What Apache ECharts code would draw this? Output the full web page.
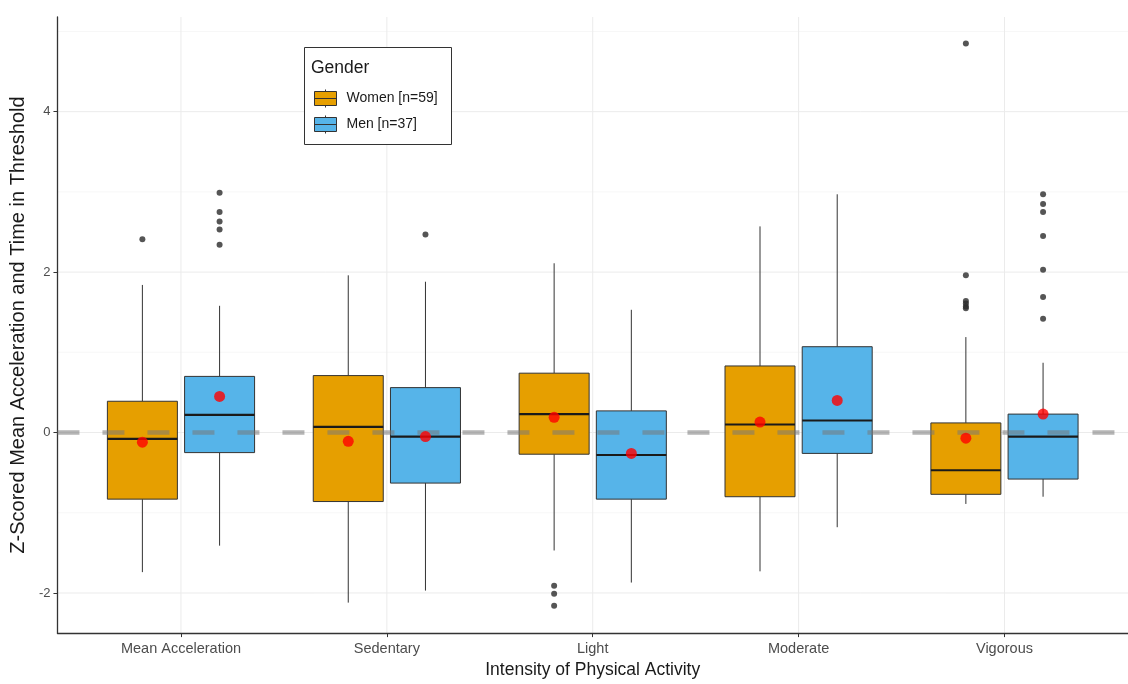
<!DOCTYPE html>
<html>
<head>
<meta charset="utf-8">
<script src="https://cdn.jsdelivr.net/npm/echarts@6/dist/echarts.min.js"></script>
<style>
html,body{margin:0;padding:0;background:#fff;}
#chart{width:1128px;height:684px;}
</style>
</head>
<body>
<div id="chart"></div>
<script>
// ---- data ----
const categories = ['Mean Acceleration', 'Sedentary', 'Light', 'Moderate', 'Vigorous'];
const seriesNames = ['Women [n=59]', 'Men [n=37]'];
// [lower whisker, Q1, median, Q3, upper whisker]
const womenBox = [
  [-1.74, -0.83, -0.08, 0.39, 1.84],
  [-2.12, -0.86, 0.07, 0.71, 1.96],
  [-1.47, -0.27, 0.23, 0.74, 2.11],
  [-1.73, -0.80, 0.10, 0.83, 2.57],
  [-0.89, -0.77, -0.47, 0.12, 1.19]
];
const menBox = [
  [-1.41, -0.25, 0.22, 0.70, 1.58],
  [-1.97, -0.63, -0.05, 0.56, 1.88],
  [-1.87, -0.83, -0.28, 0.27, 1.53],
  [-1.18, -0.26, 0.15, 1.07, 2.97],
  [-0.80, -0.58, -0.05, 0.23, 0.87]
];
const womenMean = [-0.12, -0.11, 0.19, 0.13, -0.07];
const menMean = [0.45, -0.05, -0.26, 0.40, 0.23];
const womenOutliers = [
  [2.41],
  [],
  [-1.91, -2.01, -2.16],
  [],
  [4.85, 1.96, 1.64, 1.61, 1.57, 1.55]
];
const menOutliers = [
  [2.99, 2.75, 2.63, 2.53, 2.34],
  [2.47],
  [],
  [],
  [2.97, 2.85, 2.75, 2.45, 2.03, 1.69, 1.42]
];
const yTicks = [-2, 0, 2, 4];
const yMinorTicks = [-1, 1, 3, 5];
const refLine = 0;

// ---- layout constants ----
const DODGE = 0.1875;
const BOX_W = 0.34;
const colors = ['#E69F00', '#56B4E9'];
const xPos = categories.map((c, i) => i + 1);

function boxData(arr) {
  return arr.map((b, i) => [xPos[i]].concat(b));
}
function pointData(arr, off) {
  return arr.map((v, i) => [xPos[i] + off, v]);
}
function outlierData(arr, off) {
  const out = [];
  arr.forEach((list, i) => list.forEach(v => out.push([xPos[i] + off, v])));
  return out;
}

function makeBoxRender(off, color) {
  return function (params, api) {
    const x = api.value(0) + off;
    const low = api.coord([x, api.value(1)]);
    const q1 = api.coord([x, api.value(2)]);
    const med = api.coord([x, api.value(3)]);
    const q3 = api.coord([x, api.value(4)]);
    const high = api.coord([x, api.value(5)]);
    const hw = api.size([BOX_W, 0])[0] / 2;
    const cx = q1[0];
    const wStyle = { stroke: '#333333', lineWidth: 1 };
    return {
      type: 'group',
      children: [
        { type: 'line', shape: { x1: cx, y1: high[1], x2: cx, y2: q3[1] }, style: wStyle },
        { type: 'line', shape: { x1: cx, y1: q1[1], x2: cx, y2: low[1] }, style: wStyle },
        { type: 'rect', shape: { x: cx - hw, y: q3[1], width: 2 * hw, height: q1[1] - q3[1] },
          style: { fill: color, stroke: '#333333', lineWidth: 1 } },
        { type: 'line', shape: { x1: cx - hw, y1: med[1], x2: cx + hw, y2: med[1] },
          style: { stroke: '#1a1a1a', lineWidth: 2.2 } }
      ]
    };
  };
}

// grid lines drawn through the axes' scales
const gridItems = [];
yTicks.forEach(v => gridItems.push(['h', v, 1]));
yMinorTicks.forEach(v => gridItems.push(['h', v, 0]));
xPos.forEach(v => gridItems.push(['v', v, 1]));

function gridRender(params, api) {
  const item = gridItems[params.dataIndex];
  const cs = params.coordSys;
  let shape;
  if (item[0] === 'h') {
    const p = api.coord([1, item[1]]);
    shape = { x1: cs.x, y1: p[1], x2: cs.x + cs.width, y2: p[1] };
  } else {
    const p = api.coord([item[1], 0]);
    shape = { x1: p[0], y1: cs.y, x2: p[0], y2: cs.y + cs.height };
  }
  return {
    type: 'line', shape: shape,
    style: { stroke: item[2] ? '#EBEBEB' : '#F5F5F5', lineWidth: item[2] ? 1 : 0.8 }
  };
}

const chart = echarts.init(document.getElementById('chart'), null, { renderer: 'canvas' });
const FONT = 'Liberation Sans, Arial, sans-serif';

const option = {
  animation: false,
  backgroundColor: '#ffffff',
  textStyle: { fontFamily: FONT },
  grid: { left: 55, right: 0, top: 17, bottom: 50, containLabel: false },
  xAxis: {
    type: 'value',
    min: 0.4,
    max: 5.6,
    name: 'Intensity of Physical Activity',
    nameLocation: 'middle',
    nameGap: 26,
    nameTextStyle: { fontSize: 17.5, color: '#1a1a1a', fontFamily: FONT, verticalAlign: 'top' },
    axisLine: { show: true, onZero: false, lineStyle: { color: '#333333', width: 1.3 } },
    axisTick: { show: true, customValues: xPos, length: 4, lineStyle: { color: '#333333' } },
    axisLabel: {
      customValues: xPos,
      formatter: v => categories[Math.round(v) - 1],
      fontSize: 14.5, color: '#4D4D4D', margin: 8, fontFamily: FONT
    },
    splitLine: { show: false }
  },
  yAxis: {
    type: 'value',
    min: -2.5,
    max: 5.18,
    name: 'Z-Scored Mean Acceleration and Time in Threshold',
    nameLocation: 'middle',
    nameGap: 22,
    nameTextStyle: { fontSize: 20, color: '#1a1a1a', fontFamily: FONT },
    axisLine: { show: true, onZero: false, lineStyle: { color: '#333333', width: 1.3 } },
    axisTick: { show: true, customValues: yTicks, length: 4, lineStyle: { color: '#333333' } },
    axisLabel: { customValues: yTicks, fontSize: 13, color: '#4D4D4D', margin: 7, fontFamily: FONT },
    splitLine: { show: false }
  },
  legend: {
    z: 300,
    zlevel: 1,
    left: 314,
    top: 89,
    padding: 0,
    orient: 'vertical',
    itemWidth: 22,
    itemHeight: 18,
    itemGap: 7,
    selectedMode: false,
    textStyle: { fontSize: 14, color: '#1a1a1a', fontFamily: FONT, padding: [0, 0, 0, 5] },
    itemStyle: { borderColor: '#333333', borderWidth: 1 },
    data: seriesNames.map(n => ({
      name: n,
      icon: 'path://M0,2H22V16H0Z M0,9H22 M11,0V2 M11,16V18'
    }))
  },
  graphic: [
    { type: 'rect', left: 304, top: 47, z: 100,
      shape: { width: 147, height: 97 },
      style: { fill: '#ffffff', stroke: '#333333', lineWidth: 1 } },
    { type: 'text', left: 311, top: 59, z: 101,
      style: { text: 'Gender', fontSize: 17.5, fill: '#1a1a1a', fontFamily: FONT } }
  ],
  series: [
    {
      type: 'custom', name: 'grid', silent: true, z: 0,
      renderItem: gridRender,
      data: gridItems.map((g, i) => [i]),
      encode: { x: -1, y: -1 }
    },
    {
      type: 'custom', name: seriesNames[0], z: 2,
      itemStyle: { color: colors[0] },
      renderItem: makeBoxRender(-DODGE, colors[0]),
      data: boxData(womenBox),
      encode: { x: 0, y: [1, 2, 3, 4, 5] }
    },
    {
      type: 'custom', name: seriesNames[1], z: 2,
      itemStyle: { color: colors[1] },
      renderItem: makeBoxRender(DODGE, colors[1]),
      data: boxData(menBox),
      encode: { x: 0, y: [1, 2, 3, 4, 5] }
    },
    {
      type: 'scatter', name: 'outW', z: 3, silent: true,
      symbolSize: 6, itemStyle: { color: '#2b2b2b' },
      data: outlierData(womenOutliers, -DODGE)
    },
    {
      type: 'scatter', name: 'outM', z: 3, silent: true,
      symbolSize: 6, itemStyle: { color: '#2b2b2b' },
      data: outlierData(menOutliers, DODGE)
    },
    {
      type: 'line', name: 'ref', z: 4, silent: true,
      symbol: 'none',
      lineStyle: { color: 'rgba(120,120,120,0.55)', width: 4.5, type: [22, 23] },
      data: [[0.4, refLine], [5.6, refLine]]
    },
    {
      type: 'scatter', name: 'meanW', z: 5, silent: true,
      symbolSize: 11, itemStyle: { color: '#FF0000' },
      data: pointData(womenMean, -DODGE)
    },
    {
      type: 'scatter', name: 'meanM', z: 5, silent: true,
      symbolSize: 11, itemStyle: { color: '#FF0000' },
      data: pointData(menMean, DODGE)
    }
  ]
};
chart.setOption(option);
</script>
</body>
</html>
